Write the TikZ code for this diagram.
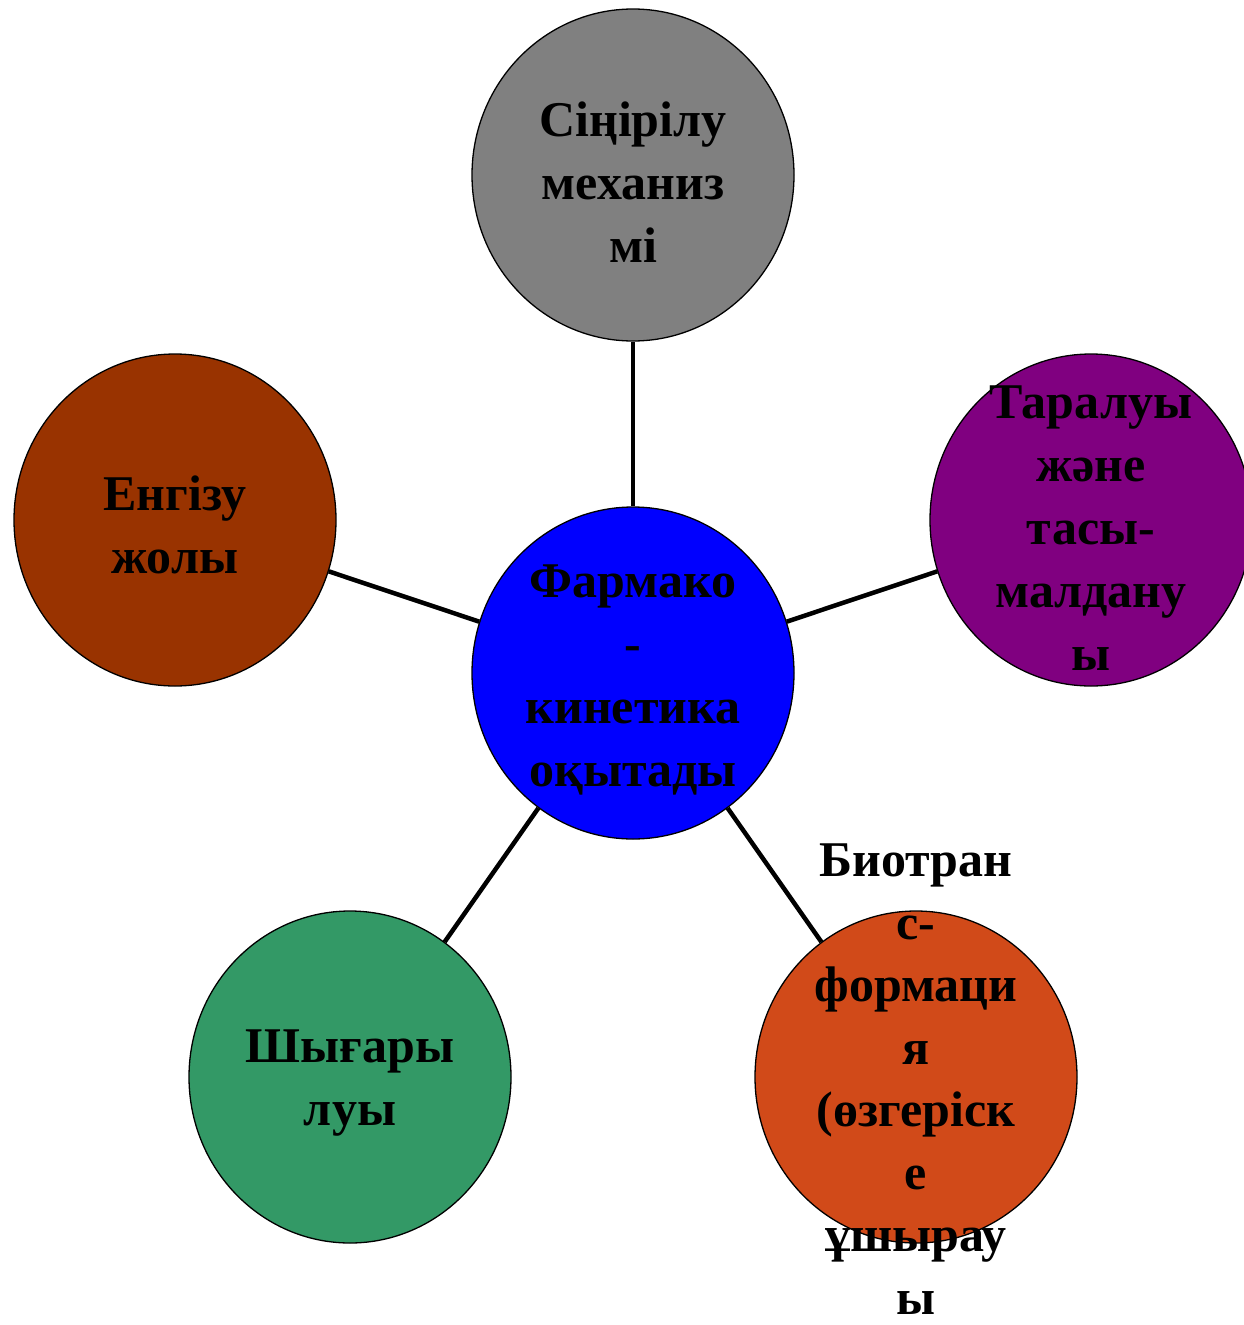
\documentclass[tikz,border=0pt]{standalone}
\usepackage{fontspec}
\setmainfont{Liberation Serif}
\usetikzlibrary{shapes.geometric}
\definecolor{cgray}{HTML}{808080}
\definecolor{cbrown}{HTML}{993300}
\definecolor{cpurple}{HTML}{800080}
\definecolor{cblue}{HTML}{0000FF}
\definecolor{cgreen}{HTML}{339966}
\definecolor{corange}{HTML}{D14A19}
\begin{document}
\begin{tikzpicture}[x=1pt,y=-1pt,
  bubble/.style={draw=black, line width=1.3pt, ellipse, minimum width=322pt, minimum height=332pt, inner sep=0pt},
  lbl/.style={font=\fontsize{50}{63}\selectfont\bfseries, align=center, text=black, inner sep=0pt},
  link/.style={line width=4.5pt, draw=black}]
\useasboundingbox (0,0) rectangle (1243,1325);
\node[bubble, fill=cblue] (c) at (633,673) {};
\node[bubble, fill=cgray] (t) at (633,175) {};
\node[bubble, fill=cbrown] (l) at (175,520) {};
\node[bubble, fill=cpurple] (r) at (1091,520) {};
\node[bubble, fill=cgreen] (bl) at (350,1077) {};
\node[bubble, fill=corange] (br) at (916,1077) {};
\draw[link] (c) -- (t);
\draw[link] (c) -- (l);
\draw[link] (c) -- (r);
\draw[link] (c) -- (bl);
\draw[link] (c) -- (br);
\node[lbl] (ct) at (633,680) {Фармако\\-\\кинетика\\оқытады};
\node[lbl] (tt) at (633,182) {Сіңірілу\\механиз\\мі};
\node[lbl] (lt) at (175,525) {Енгізу\\жолы};
\node[lbl] (rt) at (1091,528) {Таралуы\\және\\тасы-\\малдану\\ы};
\node[lbl] (blt) at (350,1083) {Шығары\\луы};
\node[lbl, font=\fontsize{50}{62.5}\selectfont\bfseries] (brt) at (916,1079) {Биотран\\с-\\формаци\\я\\(өзгеріск\\е\\ұшырау\\ы};
\end{tikzpicture}
\end{document}
